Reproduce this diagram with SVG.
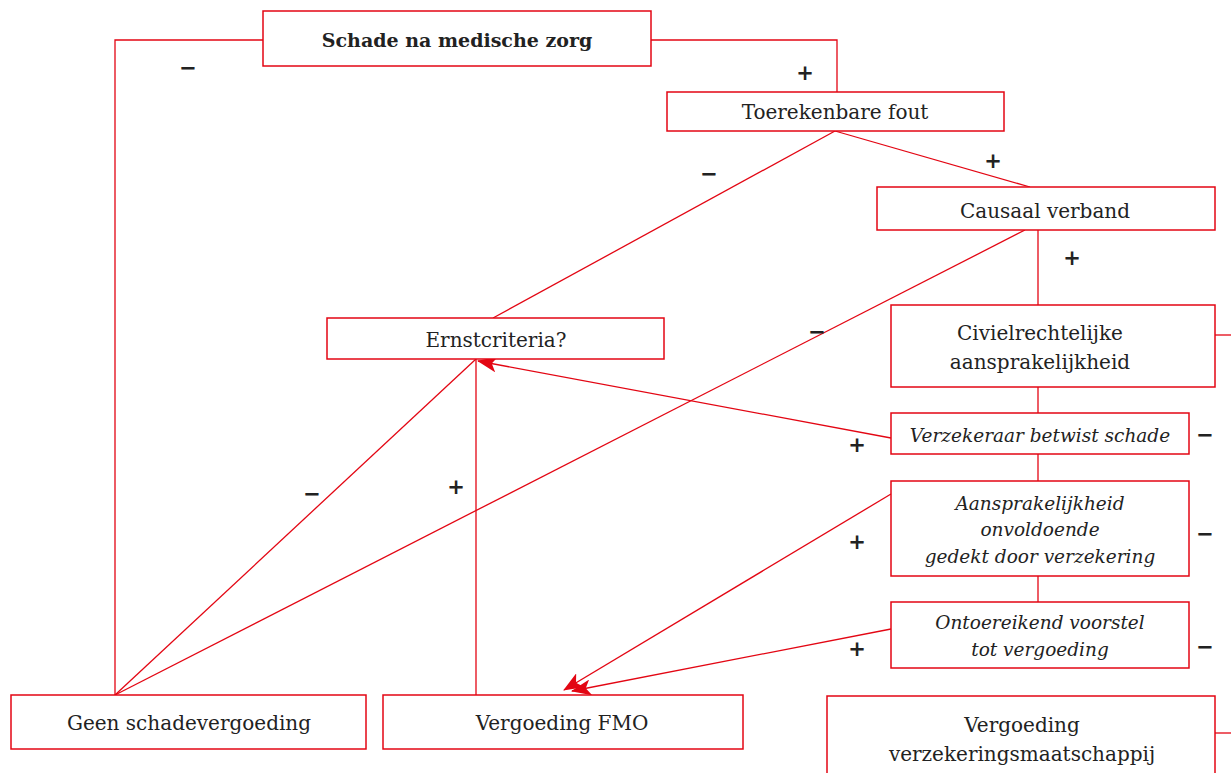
<svg xmlns="http://www.w3.org/2000/svg" width="1231" height="773" viewBox="0 0 1231 773">
<style>
.box{fill:#fff;stroke:#e30613;stroke-width:1.5}
.ln{fill:none;stroke:#e30613;stroke-width:1.3}
.t{font-family:"DejaVu Serif","Liberation Serif",serif;font-size:20px;fill:#222;text-anchor:middle}
.b{font-weight:bold;font-size:19px}
.i{font-style:italic;font-size:18.5px}
.s{font-family:"DejaVu Sans","Liberation Sans",sans-serif;font-size:21px;font-weight:bold;fill:#222;text-anchor:middle}
</style>
<defs>
<marker id="ah" viewBox="0 0 20 16" refX="19" refY="8" markerWidth="20" markerHeight="16" markerUnits="userSpaceOnUse" orient="auto">
<path d="M0,0 L20,8 L0,16 L5,8 Z" fill="#e30613"/>
</marker>
</defs>
<g id="connectors">
<polyline class="ln" points="263,40 115,40 115,695"/>
<polyline class="ln" points="651,40 837,40 837,92"/>
<line class="ln" x1="835" y1="131" x2="493" y2="318"/>
<line class="ln" x1="835" y1="131" x2="1030" y2="187"/>
<line class="ln" x1="1025" y1="230" x2="115" y2="695"/>
<line class="ln" x1="1038" y1="230" x2="1038" y2="305"/>
<line class="ln" x1="476" y1="359" x2="476" y2="695"/>
<line class="ln" x1="476" y1="359" x2="115" y2="695"/>
<line class="ln" x1="891" y1="438" x2="478" y2="361" marker-end="url(#ah)"/>
<line class="ln" x1="1038" y1="387" x2="1038" y2="413"/>
<line class="ln" x1="1038" y1="454" x2="1038" y2="481"/>
<line class="ln" x1="1038" y1="576" x2="1038" y2="602"/>
<line class="ln" x1="891" y1="494" x2="564" y2="690" marker-end="url(#ah)"/>
<line class="ln" x1="891" y1="629" x2="572" y2="691" marker-end="url(#ah)"/>
<line class="ln" x1="1215" y1="335" x2="1231" y2="335"/>
<line class="ln" x1="1215" y1="733" x2="1231" y2="733"/>
</g>
<g id="signs">
<text class="s" x="188" y="75">−</text>
<text class="s" x="805" y="80">+</text>
<text class="s" x="709" y="181">−</text>
<text class="s" x="993" y="168">+</text>
<text class="s" x="1072" y="265">+</text>
<text class="s" x="817" y="339">−</text>
<text class="s" x="312" y="501">−</text>
<text class="s" x="456" y="494">+</text>
<text class="s" x="857" y="452">+</text>
<text class="s" x="857" y="549">+</text>
<text class="s" x="857" y="656">+</text>
<text class="s" x="1205" y="442">−</text>
<text class="s" x="1205" y="541">−</text>
<text class="s" x="1205" y="654">−</text>
</g>
<g id="n-schade">
<rect class="box" x="263" y="11" width="388" height="55"/>
<text class="t b" x="457" y="47">Schade na medische zorg</text>
</g>
<g id="n-toerekenbare">
<rect class="box" x="667" y="92" width="337" height="39"/>
<text class="t" x="835" y="119">Toerekenbare fout</text>
</g>
<g id="n-causaal">
<rect class="box" x="877" y="187" width="338" height="43"/>
<text class="t" x="1045" y="218">Causaal verband</text>
</g>
<g id="n-ernst">
<rect class="box" x="327" y="318" width="337" height="41"/>
<text class="t" x="496" y="347">Ernstcriteria?</text>
</g>
<g id="n-civiel">
<rect class="box" x="891" y="305" width="324" height="82"/>
<text class="t" x="1040" y="340">Civielrechtelijke</text>
<text class="t" x="1040" y="369">aansprakelijkheid</text>
</g>
<g id="n-betwist">
<rect class="box" x="891" y="413" width="298" height="41"/>
<text class="t i" x="1040" y="442">Verzekeraar betwist schade</text>
</g>
<g id="n-gedekt">
<rect class="box" x="891" y="481" width="298" height="95"/>
<text class="t i" x="1040" y="510">Aansprakelijkheid</text>
<text class="t i" x="1040" y="536">onvoldoende</text>
<text class="t i" x="1040" y="563">gedekt door verzekering</text>
</g>
<g id="n-voorstel">
<rect class="box" x="891" y="602" width="298" height="66"/>
<text class="t i" x="1040" y="629">Ontoereikend voorstel</text>
<text class="t i" x="1040" y="656">tot vergoeding</text>
</g>
<g id="n-geen">
<rect class="box" x="11" y="695" width="355" height="54"/>
<text class="t" x="189" y="730">Geen schadevergoeding</text>
</g>
<g id="n-fmo">
<rect class="box" x="383" y="695" width="360" height="54"/>
<text class="t" x="562" y="730">Vergoeding FMO</text>
</g>
<g id="n-verzekering">
<rect class="box" x="827" y="696" width="388" height="90"/>
<text class="t" x="1022" y="732">Vergoeding</text>
<text class="t" x="1022" y="761">verzekeringsmaatschappij</text>
</g>
</svg>
